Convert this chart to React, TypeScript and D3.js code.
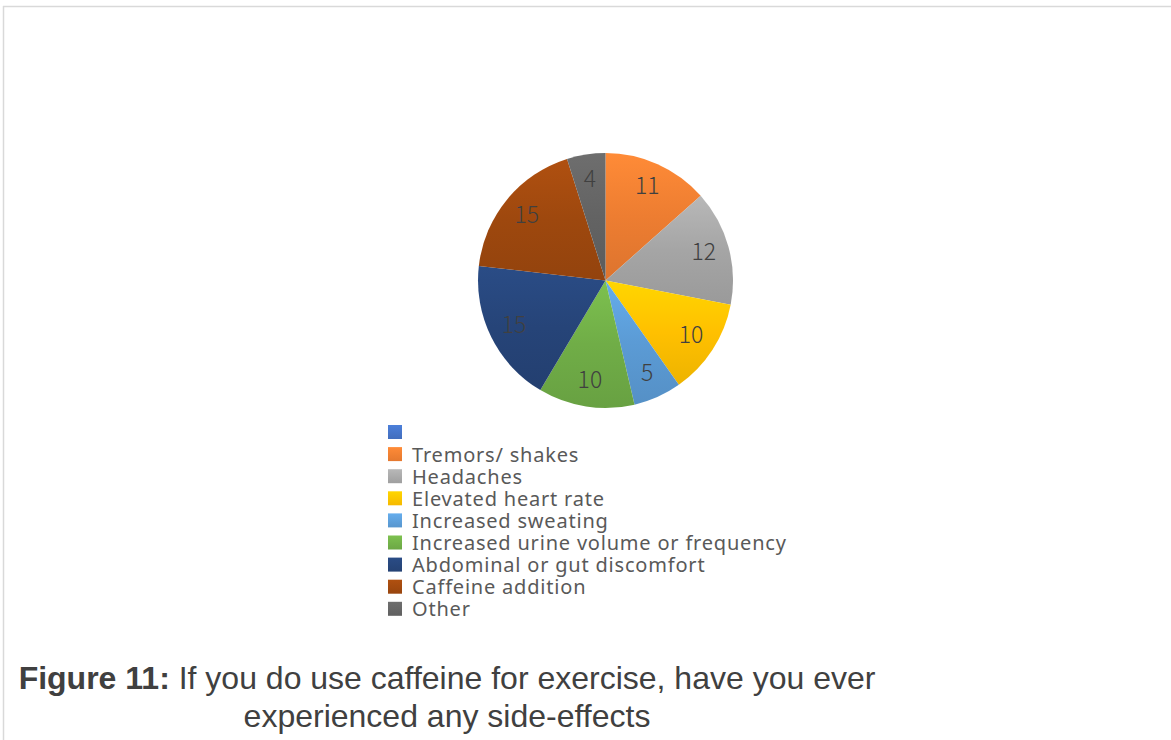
import React from "react";
import * as d3 from "d3";

const categories = ["", "Tremors/ shakes", "Headaches", "Elevated heart rate", "Increased sweating", "Increased urine volume or frequency", "Abdominal or gut discomfort", "Caffeine addition", "Other"];
const values = [0, 11, 12, 10, 5, 10, 15, 15, 4];
const colors = ["#4472C4", "#ED7D31", "#A5A5A5", "#FFC000", "#5B9BD5", "#70AD47", "#264478", "#9E480E", "#636363"];
const titleBold = "Figure 11:";
const titleRest = " If you do use caffeine for exercise, have you ever";
const titleLine2 = "experienced any side-effects";

export default function App() {
  const W = 1171, H = 740;
  const cx = 605.5, cy = 280.5, r = 127.5;
  const data = categories.map((c, i) => ({ c, v: values[i], color: colors[i], i }));
  const pie = d3.pie<any>().value((d) => d.v).sort(null);
  const arcs = pie(data);
  const arc = d3.arc<any>().innerRadius(0).outerRadius(r);
  const labelArc = d3.arc<any>().innerRadius(r * 0.8).outerRadius(r * 0.8);
  const legendX = 388, legendY0 = 425, legendStep = 22.1;
  return (
    <div style={{ position: "absolute", left: 0, top: 0 }}>
      <svg width={W} height={H} style={{ display: "block" }}>
        <defs>
          {data.map((d) => (
            <linearGradient key={d.i} id={"g" + d.i} x1="0" y1="0" x2="0" y2="1">
              <stop offset="0" stopColor={d3.color(d.color)!.brighter(0.3).formatHex()} />
              <stop offset="1" stopColor={d3.color(d.color)!.darker(0.1).formatHex()} />
            </linearGradient>
          ))}
          {data.map((d) => (
            <linearGradient key={"p" + d.i} id={"pg" + d.i} x1="0" y1="0" x2="0" y2="1">
              <stop offset="0" stopColor={d3.color(d.color)!.brighter(0.3).formatHex()} />
              <stop offset="0.5" stopColor={d.color} />
              <stop offset="1" stopColor={d3.color(d.color)!.darker(0.2).formatHex()} />
            </linearGradient>
          ))}
        </defs>
        <rect x={0} y={0} width={W} height={H} fill="#ffffff" />
        <line x1={3} y1={6.5} x2={W} y2={6.5} stroke="#d9d9d9" strokeWidth={1.5} />
        <line x1={3.5} y1={6} x2={3.5} y2={H} stroke="#d9d9d9" strokeWidth={1.5} />
        <g transform={`translate(${cx},${cy})`}>
          {arcs.filter((a) => a.data.v > 0).map((a) => (
            <path key={a.data.i} d={arc(a)!} fill={`url(#pg${a.data.i})`} />
          ))}
        </g>
        <g>
          {arcs.filter((a) => a.data.v > 0).map((a) => {
            const [x, y] = labelArc.centroid(a);
            return (
              <text key={a.data.i} x={cx + x} y={cy + y - 3} textAnchor="middle" dominantBaseline="central"
                fontFamily="'Noto Sans CJK SC', 'Noto Sans', sans-serif" fontSize={23} fontWeight={300} fill="#404040">
                {a.data.v}
              </text>
            );
          })}
        </g>
        <g>
          {data.map((d, i) => (
            <g key={i}>
              <rect x={legendX} y={legendY0 + i * legendStep} width={14} height={14} fill={`url(#g${i})`} />
              <text x={412} y={legendY0 + i * legendStep + 7} dominantBaseline="central"
                fontFamily="'Noto Sans', sans-serif" fontSize={20} letterSpacing={0.8} fill="#595959">
                {d.c}
              </text>
            </g>
          ))}
        </g>
        <text x={447} y={689} textAnchor="middle" fontFamily="'Liberation Sans', Arial, sans-serif" fontSize={32} fill="#404040">
          <tspan fontWeight="bold">{titleBold}</tspan>
          <tspan>{titleRest}</tspan>
        </text>
        <text x={447} y={727} textAnchor="middle" fontFamily="'Liberation Sans', Arial, sans-serif" fontSize={32} fill="#404040">
          {titleLine2}
        </text>
      </svg>
    </div>
  );
}
